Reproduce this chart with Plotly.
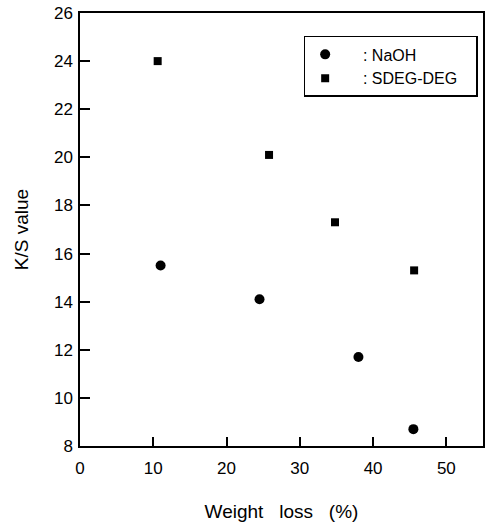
import plotly.graph_objects as go

naoh_x = [11.0, 24.5, 38.0, 45.5]
naoh_y = [15.5, 14.1, 11.7, 8.7]
sdeg_x = [10.6, 25.8, 34.8, 45.6]
sdeg_y = [24.0, 20.1, 17.3, 15.3]
x_ticks = [0, 10, 20, 30, 40, 50]
y_ticks = [8, 10, 12, 14, 16, 18, 20, 22, 24, 26]

NB = "\u00a0"
fig = go.Figure()
fig.add_trace(go.Scatter(x=naoh_x, y=naoh_y, mode="markers", name=NB * 4 + ": NaOH",
                         marker=dict(symbol="circle", size=10, color="black")))
fig.add_trace(go.Scatter(x=sdeg_x, y=sdeg_y, mode="markers", name=NB * 4 + ": SDEG-DEG" + NB * 3,
                         marker=dict(symbol="square", size=8, color="black")))

font = dict(family="Liberation Sans, Arial, sans-serif", color="black")
fig.update_layout(
    width=489, height=525,
    margin=dict(l=80, r=4, t=13, b=79),
    plot_bgcolor="white", paper_bgcolor="white",
    font=dict(size=17, **font),
    showlegend=True,
    legend=dict(x=0.555, y=0.947, xanchor="left", yanchor="top",
                bordercolor="black", borderwidth=1.5, bgcolor="white",
                font=dict(size=16, **font), itemwidth=30,
                tracegroupgap=2),
    xaxis=dict(range=[0, 55], tickvals=x_ticks, ticks="inside", ticklen=9,
               tickwidth=1.5, tickcolor="black", showline=True, linecolor="black",
               linewidth=1.5, mirror=True, showgrid=False, zeroline=False,
               ticklabelstandoff=6,
               title=dict(text="Weight" + NB * 3 + "loss" + NB * 3 + "(%)",
                          font=dict(size=19, **font), standoff=28),
               tickfont=dict(size=17, **font)),
    yaxis=dict(range=[8, 26], tickvals=y_ticks, ticks="inside", ticklen=10,
               tickwidth=1.5, tickcolor="black", showline=True, linecolor="black",
               linewidth=1.5, mirror=True, showgrid=False, zeroline=False,
               ticklabelstandoff=2,
               title=dict(text="K/S value", font=dict(size=19, **font), standoff=20),
               tickfont=dict(size=17, **font)),
)
fig.write_html("out.html")
